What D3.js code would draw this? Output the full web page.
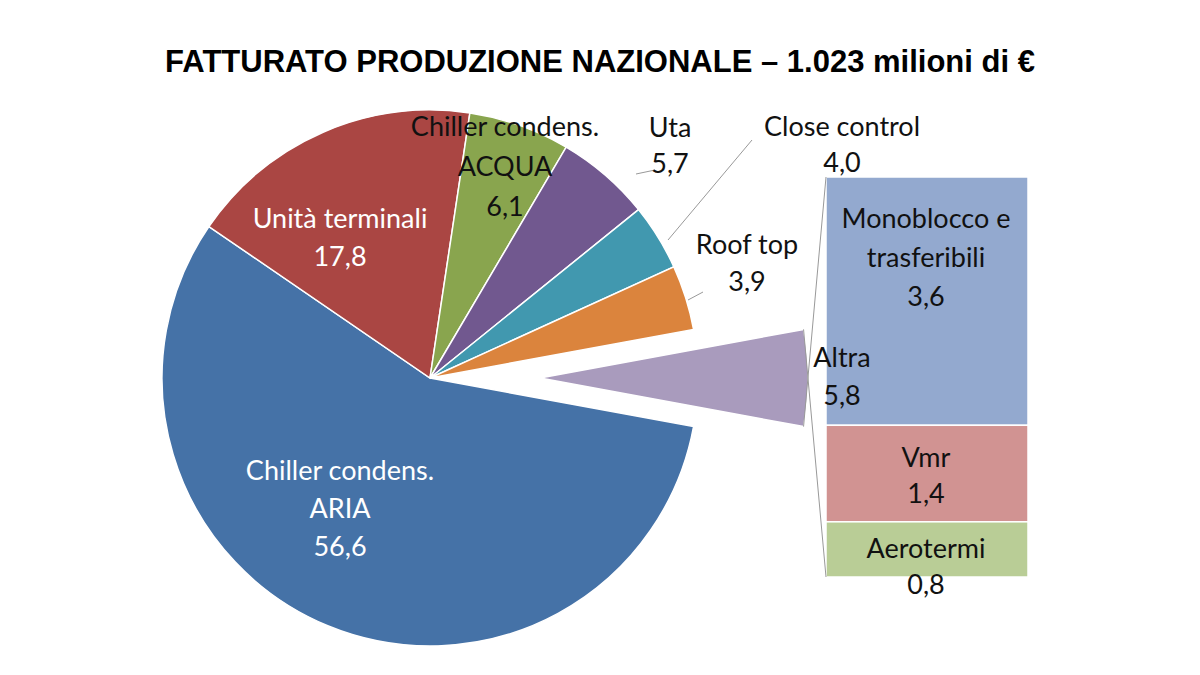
<!DOCTYPE html>
<html><head><meta charset="utf-8">
<script src="https://cdn.jsdelivr.net/npm/d3@7"></script>
<style>body{margin:0;background:#fff}</style>
</head><body>
<svg id="chart" width="1200" height="675"></svg>
<script>
// main pie, clockwise starting after the "Altra" slice
var pieLabels = ['Chiller condens.\nARIA', 'Unità terminali', 'Chiller condens.\nACQUA', 'Uta', 'Close control', 'Roof top', 'Altra'];
var pieValues = [56.6, 17.8, 6.1, 5.7, 4.0, 3.9, 5.8];
var pieColors = ['#4572A7', '#AA4643', '#89A54E', '#71588F', '#4198AF', '#DB843D', '#A99BBD'];
var barLabels = ['Monoblocco e\ntrasferibili', 'Vmr', 'Aerotermi'];
var barValues = [3.6, 1.4, 0.8];
var barColors = ['#93A9CF', '#D19392', '#B9CD96'];

var svg = d3.select('#chart');
var fmt = function(v){ return d3.format('.1f')(v).replace('.', ','); };
var font = 'Lato, "Open Sans", sans-serif';

svg.append('text').attr('x', 600).attr('y', 72).attr('text-anchor', 'middle')
  .attr('font-family', 'Liberation Sans, Arial, sans-serif').attr('font-weight', 'bold')
  .attr('font-size', 31).text('FATTURATO PRODUZIONE NAZIONALE \u2013 1.023 milioni di \u20ac');

var cx = 430, cy = 378, R = 268, explode = 110;
var total = d3.sum(pieValues);
var altra = pieValues[6] / total * 2 * Math.PI;
var start = Math.PI / 2 + altra / 2;
var pie = d3.pie().sort(null).startAngle(start).endAngle(start + 2 * Math.PI)(pieValues);
var arc = d3.arc().innerRadius(0).outerRadius(R);

var g = svg.append('g').attr('transform', 'translate(' + cx + ',' + cy + ')');
g.selectAll('path').data(pie).enter().append('path')
  .attr('d', arc)
  .attr('fill', function(d, i){ return pieColors[i]; })
  .attr('stroke', '#fff').attr('stroke-width', 1.5)
  .attr('transform', function(d, i){ return i === 6 ? 'translate(' + explode + ',0)' : null; });

// bar of pie
var bx = 826, bw = 202, btop = 177, bbot = 577;
var y = d3.scaleLinear().domain([0, d3.sum(barValues)]).range([btop, bbot]);
var cum = 0;
var stack = barValues.map(function(v){ var s = cum; cum += v; return [s, cum]; });
svg.selectAll('rect.bar').data(stack).enter().append('rect')
  .attr('x', bx).attr('width', bw)
  .attr('y', function(d){ return y(d[0]); })
  .attr('height', function(d){ return y(d[1]) - y(d[0]); })
  .attr('fill', function(d, i){ return barColors[i]; })
  .attr('stroke', '#fff').attr('stroke-width', 1.5);

// connectors from exploded slice to bar
var a0 = pie[6].startAngle, a1 = pie[6].endAngle;
var p0 = [cx + explode + R * Math.sin(a0), cy - R * Math.cos(a0)];
var p1 = [cx + explode + R * Math.sin(a1), cy - R * Math.cos(a1)];
svg.append('line').attr('x1', p1[0]).attr('y1', p1[1]).attr('x2', bx).attr('y2', btop).attr('stroke', '#999');
svg.append('line').attr('x1', p0[0]).attr('y1', p0[1]).attr('x2', bx).attr('y2', bbot).attr('stroke', '#999');

// leader lines
var leaders = [[636, 174, 655, 170], [668, 240, 752, 140], [688, 300, 703, 292]];
svg.selectAll('line.lead').data(leaders).enter().append('line')
  .attr('x1', function(d){ return d[0]; }).attr('y1', function(d){ return d[1]; })
  .attr('x2', function(d){ return d[2]; }).attr('y2', function(d){ return d[3]; })
  .attr('stroke', '#999');

function label(x, y0, text, color, lh){
  var lines = text.split('\n');
  var t = svg.append('text').attr('text-anchor', 'middle').attr('font-family', font)
    .attr('font-size', 27).attr('fill', color);
  lines.forEach(function(l, i){
    t.append('tspan').attr('x', x).attr('y', y0 + i * lh).text(l);
  });
}
var pieLabelPos = [[340, 480, '#fff', 38], [340, 228, '#fff', 38], [505, 136, '#111', 40],
  [670, 137, '#111', 36], [842, 136, '#111', 36], [747, 254, '#111', 37], [842, 367, '#111', 38]];
pieValues.forEach(function(v, i){
  var p = pieLabelPos[i];
  label(p[0], p[1], pieLabels[i] + '\n' + fmt(v), p[2], p[3]);
});
var barLabelPos = [[926, 228, 39], [926, 467, 36], [926, 558, 36]];
barValues.forEach(function(v, i){
  var p = barLabelPos[i];
  label(p[0], p[1], barLabels[i] + '\n' + fmt(v), '#111', p[2]);
});
</script>
</body></html>
